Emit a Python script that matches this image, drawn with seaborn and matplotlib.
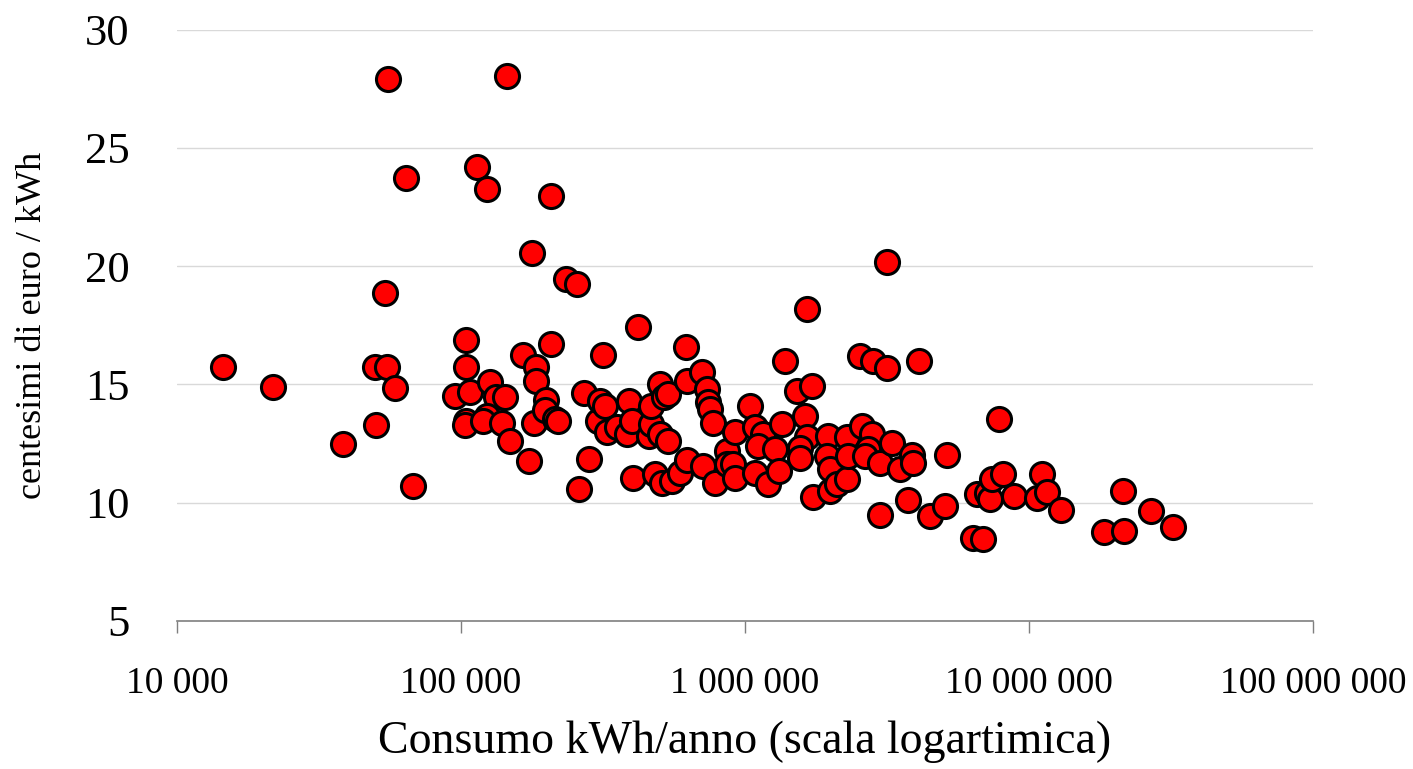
import numpy as np
import pandas as pd
import matplotlib
matplotlib.use('Agg')
import matplotlib.pyplot as plt
import matplotlib.ticker as mticker
import seaborn as sns

# Consumo annuo (kWh) e prezzo (centesimi di euro / kWh)
consumo = [
    14500, 21800, 38500, 49800, 50100, 54800, 55500, 54000, 58500, 64000,
    68000, 95200, 104400, 104200, 107600, 104400, 103300, 114000, 123500, 126500,
    133000, 143000, 123000, 119800, 139000, 149000, 145000, 165000, 173500, 178300,
    183300, 183300, 180500, 199000, 197600, 208000, 208000, 214000, 220000, 234000,
    257000, 261000, 270000, 283000, 304600, 308500, 317000, 322000, 327000, 355000,
    383000, 390000, 401000, 421000, 402000, 458000, 466000, 466000, 502000, 517000,
    537000, 502000, 537000, 482000, 510000, 552000, 590000, 623000, 618000, 623000,
    704000, 733000, 743000, 754000, 773000, 713000, 784000, 862000, 862000, 922000,
    910000, 922000, 1040000, 1084000, 1160000, 1115000, 1280000, 1350000, 1084000, 1208000,
    1320000, 1380000, 1521000, 1717000, 1650000, 1626000, 1650000, 1562000, 1562000, 1741000,
    1964000, 1940000, 1992000, 1992000, 2100000, 2281000, 2281000, 2300000, 2541000, 2575000,
    2792000, 2720000, 2650000, 2832000, 2987000, 2987000, 3155000, 3155000, 3285000, 3515000,
    3758000, 3864000, 3915000, 4100000, 4480000, 5058000, 5128000, 6546000, 6336000, 6909000,
    7100000, 7290000, 7390000, 7838000, 8080000, 8850000, 10640000, 11090000, 11540000, 12930000,
    18400000, 21660000, 21480000, 26800000, 32200000,
]
prezzo = [
    15.75, 14.9, 12.5, 15.75, 13.3, 15.75, 27.9, 18.85, 14.85, 23.75,
    10.7, 14.5, 16.9, 15.75, 14.7, 13.45, 13.3, 24.2, 23.25, 15.1,
    14.45, 14.45, 13.65, 13.45, 13.35, 12.6, 28.05, 16.25, 11.75, 20.55,
    15.75, 15.13, 13.35, 14.35, 13.9, 22.97, 16.7, 13.55, 13.45, 19.45,
    19.25, 10.6, 14.65, 11.85, 13.45, 14.3, 16.25, 14.1, 12.97, 13.18,
    12.9, 14.3, 13.45, 17.45, 11.05, 12.83, 13.32, 14.1, 15.02, 14.45,
    14.6, 12.9, 12.6, 11.2, 10.85, 10.92, 11.27, 11.8, 16.6, 15.16,
    15.51, 14.81, 14.24, 13.96, 13.39, 11.56, 10.85, 12.19, 11.63, 12.97,
    11.63, 11.06, 14.1, 13.18, 12.9, 12.41, 12.27, 13.32, 11.27, 10.78,
    11.34, 16.0, 14.73, 14.95, 18.2, 13.67, 12.76, 12.33, 11.91, 10.25,
    12.83, 11.98, 11.42, 10.5, 10.78, 10.99, 12.76, 11.98, 16.22, 13.25,
    12.9, 12.27, 11.98, 16.0, 11.69, 9.5, 20.17, 15.69, 12.54, 11.42,
    10.12, 12.0, 11.69, 16.0, 9.44, 9.86, 12.0, 10.36, 8.52, 8.45,
    10.42, 10.14, 10.99, 13.53, 11.2, 10.28, 10.19, 11.23, 10.47, 9.68,
    8.76, 8.8, 10.5, 9.65, 8.97,
]
x_ticks = [1e4, 1e5, 1e6, 1e7, 1e8]
x_tick_labels = ['10 000', '100 000', '1 000 000', '10 000 000', '100 000 000']
y_ticks = [5, 10, 15, 20, 25, 30]

df = pd.DataFrame({'consumo': consumo, 'prezzo': prezzo})

sns.set_style('white')
plt.rcParams['font.family'] = ['Liberation Serif', 'DejaVu Serif']
plt.rcParams['text.color'] = 'black'
plt.rcParams['axes.labelcolor'] = 'black'
plt.rcParams['xtick.labelcolor'] = 'black'
plt.rcParams['ytick.labelcolor'] = 'black'

fig = plt.figure(figsize=(14.13, 7.69), dpi=100)
ax = fig.add_axes([0.1253, 0.1925, 0.8039, 0.7689])

sns.scatterplot(
    data=df, x='consumo', y='prezzo', ax=ax,
    color='#ff0000', edgecolor='black', linewidth=2.2, s=300,
    zorder=3, legend=False
)

ax.set_xscale('log')
ax.set_xlim(1e4, 1e8)
ax.set_ylim(5, 30)
ax.set_xticks(x_ticks)
ax.xaxis.set_major_formatter(mticker.FixedFormatter(x_tick_labels))
ax.xaxis.set_minor_locator(mticker.NullLocator())
ax.set_yticks(y_ticks)

# griglia orizzontale chiara, solo asse x visibile
ax.grid(axis='y', color='#d9d9d9', linewidth=1.0, zorder=0)
ax.set_axisbelow(True)
for side in ['top', 'right', 'left']:
    ax.spines[side].set_visible(False)
ax.spines['bottom'].set_color('#7f7f7f')
ax.spines['bottom'].set_linewidth(1.2)

ax.tick_params(axis='x', direction='out', length=8.6, width=1.0, color='#7f7f7f',
               pad=24, labelsize=27, bottom=True)
ax.tick_params(axis='y', length=0, pad=34, labelsize=32)

ax.set_xlabel('Consumo kWh/anno (scala logartimica)', fontsize=33, labelpad=14)
ax.set_ylabel('centesimi di euro / kWh', fontsize=26, labelpad=26)

fig.savefig('out.png', dpi=100)
